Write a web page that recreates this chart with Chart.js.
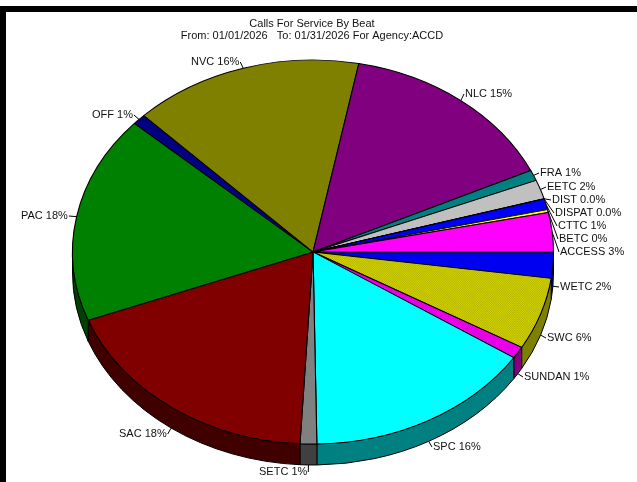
<!DOCTYPE html>
<html>
<head>
<meta charset="utf-8">
<title>Calls For Service By Beat</title>
<script src="https://cdn.jsdelivr.net/npm/chart.js@4/dist/chart.umd.min.js"></script>
<style>
    html, body { margin: 0; padding: 0; background: #fff; overflow: hidden; }
    #topBar { position: absolute; left: 0; top: 6px; width: 637px; height: 6px; background: #000; }
    #leftBar { position: absolute; left: 0; top: 6px; width: 6px; height: 476px; background: #000; }
    canvas { position: absolute; left: 0; top: 0; }
</style>
</head>
<body>
<div id="topBar"></div>
<div id="leftBar"></div>
<canvas id="pie" width="637" height="482"></canvas>
<script>
// Datos del gráfico, en sentido horario desde las 3 en punto
const beats = ['WETC', 'SWC', 'SUNDAN', 'SPC', 'SETC', 'SAC', 'PAC', 'OFF', 'NVC', 'NLC', 'FRA', 'EETC', 'DIST', 'DISPAT', 'CTTC', 'BETC', 'ACCESS'];
const shares = [2.2, 6.1, 1.0, 15.49, 1.12, 18.39, 17.5, 0.9, 15.5, 15.0, 0.9, 1.6, 0.02, 0.02, 0.9, 0.25, 3.3];
const percentLabels = ['2%', '6%', '1%', '16%', '1%', '18%', '18%', '1%', '16%', '15%', '1%', '2%', '0.0%', '0.0%', '1%', '0%', '3%'];
const titleLines = ['Calls For Service By Beat', 'From: 01/01/2026   To: 01/31/2026 For Agency:ACCD'];

const topColors = ['#0000f0', 'dither', 'dither2', '#00ffff', '#808080', '#800000', '#008000', '#000080', '#808000', '#800080', '#008080', '#c0c0c0', '#0000ff', '#0000ff', '#0000ff', '#ffff00', '#ff00ff'];
const sideColors = ['#000080', '#808000', '#800080', '#008080', '#404040', '#400000', '#004000', '#000040', '#404000', '#400040', '#004040', '#606060', '#000080', '#000080', '#000080', '#808000', '#800080'];

// Posición del texto de cada etiqueta (izquierda, centro vertical)
const labelSpots = [[560, 287], [547, 338], [524, 377], [433, 447], [259, 472], [119, 434], [21, 216], [92, 115], [191, 62], [465, 94], [540, 173], [547, 187], [552, 200], [555, 213], [558, 226], [559, 239], [560, 252]];

// Geometría de la elipse
const pieX = 313, pieY = 252, pieRx = 240.5, pieRy = 192, pieDepth = 21;

function makeDither(light, dark) {
    const c = document.createElement('canvas');
    c.width = 2;
    c.height = 2;
    const g = c.getContext('2d');
    g.fillStyle = light;
    g.fillRect(0, 0, 2, 2);
    g.fillStyle = dark;
    g.fillRect(0, 0, 1, 1);
    g.fillRect(1, 1, 1, 1);
    return g.createPattern(c, 'repeat');
}

const fills = topColors.map(color => {
    if (color === 'dither') return makeDither('#dcdc00', '#acac00');
    if (color === 'dither2') return makeDither('#ff00ff', '#d000d0');
    return color;
});

// Dibuja la pared lateral y aplasta el círculo de Chart.js hasta la elipse
const tiltPlugin = {
    id: 'tilt',
    beforeDatasetsDraw(chart) {
        const ctx = chart.ctx;
        const arcs = chart.getDatasetMeta(0).data;

        ctx.save();
        ctx.lineWidth = 1;
        ctx.strokeStyle = '#000';
        arcs.forEach((arc, i) => {
            const from = Math.max(arc.startAngle, 0);
            const to = Math.min(arc.endAngle, Math.PI);
            if (to <= from) return;
            ctx.beginPath();
            ctx.ellipse(pieX, pieY, pieRx, pieRy, 0, from, to);
            ctx.ellipse(pieX, pieY + pieDepth, pieRx, pieRy, 0, to, from, true);
            ctx.closePath();
            ctx.fillStyle = sideColors[i];
            ctx.fill();
            ctx.stroke();
        });
        ctx.restore();

        const r = arcs[0].outerRadius;
        ctx.save();
        ctx.translate(pieX, pieY);
        ctx.scale(pieRx / r, pieRy / r);
        ctx.translate(-arcs[0].x, -arcs[0].y);
    },
    afterDatasetsDraw(chart) {
        chart.ctx.restore();
    }
};

// Etiquetas con su línea guía
const labelPlugin = {
    id: 'beatLabels',
    afterDraw(chart) {
        const ctx = chart.ctx;
        const arcs = chart.getDatasetMeta(0).data;
        ctx.save();
        ctx.font = '11px "Liberation Sans", Arial, sans-serif';
        ctx.textBaseline = 'middle';
        ctx.textAlign = 'left';
        ctx.lineWidth = 1;
        ctx.strokeStyle = '#000';
        arcs.forEach((arc, i) => {
            const text = beats[i] + ' ' + percentLabels[i];
            const [tx, ty] = labelSpots[i];
            const mid = (arc.startAngle + arc.endAngle) / 2;
            const wall = mid > 0 && mid < Math.PI ? pieDepth : 0;
            const rimX = pieX + pieRx * Math.cos(mid);
            const rimY = pieY + pieRy * Math.sin(mid) + wall;
            const width = ctx.measureText(text).width;
            const endX = rimX > tx + width / 2 ? tx + width + 1 : tx - 1;
            ctx.beginPath();
            ctx.moveTo(rimX, rimY);
            ctx.lineTo(endX, ty);
            ctx.stroke();
            ctx.fillStyle = '#111';
            ctx.fillText(text, tx, ty);
        });
        ctx.restore();
    }
};

new Chart(document.getElementById('pie'), {
    type: 'pie',
    data: {
        labels: beats,
        datasets: [{
            data: shares,
            backgroundColor: fills,
            borderColor: '#000',
            borderWidth: 1,
            clip: false
        }]
    },
    options: {
        responsive: false,
        animation: false,
        rotation: 90,
        layout: { padding: { right: 13 } },
        events: [],
        plugins: {
            legend: { display: false },
            tooltip: { enabled: false },
            title: {
                display: true,
                text: titleLines,
                color: '#111',
                font: { family: '"Liberation Sans", Arial, sans-serif', size: 11, weight: 'normal', lineHeight: 1.1 },
                padding: { top: 18, bottom: 4 }
            }
        }
    },
    plugins: [tiltPlugin, labelPlugin]
});
</script>
</body>
</html>
